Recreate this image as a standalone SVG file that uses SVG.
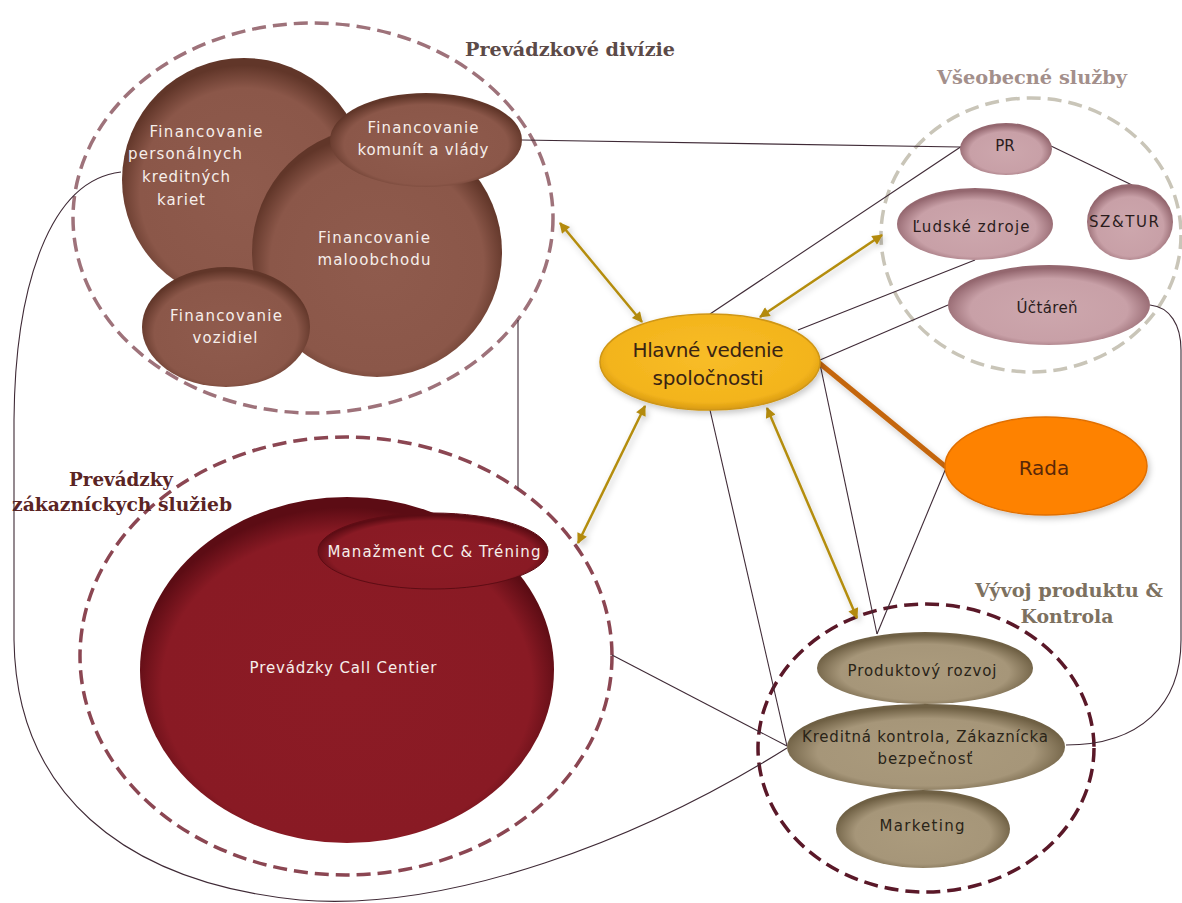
<svg xmlns="http://www.w3.org/2000/svg" width="1182" height="903" viewBox="0 0 1182 903">
<defs>
<style>
.grp{fill:none;stroke-width:3.5;stroke-dasharray:14 7}
.con{fill:none;stroke:#3f2a36;stroke-width:1.1}
.arr{fill:none;stroke:#b48d10;stroke-width:2.5;marker-start:url(#ah);marker-end:url(#ah)}
.wt{font-family:"DejaVu Sans","Noto Sans",sans-serif;font-size:15px;fill:#f6eeea;text-anchor:middle}
.dk{font-family:"DejaVu Sans","Noto Sans",sans-serif;font-size:15px;fill:#2a1c1c;text-anchor:middle}
.big{font-size:20px}
.ol{fill:#2a2418}
.ttl{font-family:"DejaVu Serif","Liberation Serif",serif;font-weight:bold;font-size:18px;text-anchor:middle}
</style>
<marker id="ah" viewBox="0 0 10 10" refX="9" refY="5" markerWidth="5.2" markerHeight="4.2" orient="auto-start-reverse" markerUnits="strokeWidth">
<path d="M0,0 L10,5 L0,10 z" fill="#b38a0c"/>
</marker>
<radialGradient id="gBrown" cx="50%" cy="55%" r="52%">
<stop offset="0" stop-color="#8f5b4d"/><stop offset="0.82" stop-color="#8b5749"/><stop offset="1" stop-color="#613629"/>
</radialGradient>
<radialGradient id="gRed" cx="50%" cy="55%" r="52%">
<stop offset="0" stop-color="#8c1b25"/><stop offset="0.86" stop-color="#891a24"/><stop offset="1" stop-color="#5c0c14"/>
</radialGradient>
<radialGradient id="gPink" cx="50%" cy="56%" r="52%">
<stop offset="0" stop-color="#cda7ad"/><stop offset="0.75" stop-color="#c8a0a7"/><stop offset="1" stop-color="#94676f"/>
</radialGradient>
<radialGradient id="gOlive" cx="50%" cy="56%" r="52%">
<stop offset="0" stop-color="#ab9b7d"/><stop offset="0.75" stop-color="#a69679"/><stop offset="1" stop-color="#6f6044"/>
</radialGradient>
<radialGradient id="gGold" cx="50%" cy="45%" r="55%">
<stop offset="0" stop-color="#f8bd28"/><stop offset="0.85" stop-color="#f3b41c"/><stop offset="1" stop-color="#d89a12"/>
</radialGradient>
<filter id="sh" x="-20%" y="-20%" width="140%" height="150%">
<feDropShadow dx="2" dy="3" stdDeviation="3" flood-color="#000" flood-opacity="0.22"/>
</filter>
</defs>
<rect width="1182" height="903" fill="#ffffff"/>

<!-- group containers -->
<g id="grp-prevadzkove-divizie">
<ellipse class="grp" cx="313" cy="218" rx="240" ry="195" stroke="#9e727a"/>
<text class="ttl" x="570" y="56" fill="#5c4a48" textLength="210" lengthAdjust="spacingAndGlyphs">Prevádzkové divízie</text>
</g>
<g id="grp-vseobecne-sluzby">
<ellipse class="grp" cx="1031" cy="235" rx="150" ry="137" stroke="#c9c5b8"/>
<text class="ttl" x="1032" y="84" fill="#a38f8b" textLength="190" lengthAdjust="spacingAndGlyphs">Všeobecné služby</text>
</g>
<g id="grp-prevadzky-zakaznickych-sluzieb">
<ellipse class="grp" cx="346" cy="656" rx="266" ry="219" stroke="#8b4652"/>
<text class="ttl" x="121" y="486" fill="#5a2424" textLength="104" lengthAdjust="spacingAndGlyphs">Prevádzky</text>
<text class="ttl" x="122" y="511" fill="#5a2424" textLength="220" lengthAdjust="spacingAndGlyphs">zákazníckych služieb</text>
</g>
<g id="grp-vyvoj-produktu">
<ellipse class="grp" cx="926" cy="748" rx="168" ry="144" stroke="#5a1828" stroke-dasharray="12 7"/>
<text class="ttl" x="1069" y="597" fill="#7d7160" textLength="188" lengthAdjust="spacingAndGlyphs">Vývoj produktu &amp;</text>
<text class="ttl" x="1067" y="623" fill="#7d7160" textLength="93" lengthAdjust="spacingAndGlyphs">Kontrola</text>
</g>

<!-- connectors -->
<g id="connectors">
<line class="con" x1="522" y1="140" x2="960" y2="147"/>
<line class="con" x1="710" y1="314" x2="962" y2="146"/>
<line class="con" x1="1051" y1="146" x2="1132" y2="185"/>
<line class="con" x1="798" y1="330" x2="975" y2="260"/>
<line class="con" x1="820" y1="360" x2="948" y2="305"/>
<line class="con" x1="820" y1="364" x2="877" y2="634"/>
<line class="con" x1="946" y1="468" x2="877" y2="634"/>
<line class="con" x1="710" y1="410" x2="787" y2="746"/>
<line class="con" x1="612" y1="655" x2="787" y2="746"/>
<line class="con" x1="518" y1="320" x2="518" y2="489"/>
<path class="con" d="M1150,305 C1170,307 1181,325 1181,350 L1181,640 C1181,705 1140,745 1066,745"/>
<path class="con" d="M121,172 C50,180 15,285 14,420 L14,640 C16,790 120,882 300,900 C450,912 640,840 787,748"/>
<line x1="818" y1="362" x2="946" y2="467" stroke="#c4660e" stroke-width="5" filter="url(#sh)"/>
<g filter="url(#sh)">
<line class="arr" x1="560" y1="223" x2="642" y2="322"/>
<line class="arr" x1="882" y1="235" x2="760" y2="317"/>
<line class="arr" x1="578" y1="543" x2="645" y2="406"/>
<line class="arr" x1="767" y1="408" x2="857" y2="618"/>
</g>
</g>

<!-- Prevádzkové divízie nodes -->
<g id="node-personalne-karty">
<circle cx="244" cy="180" r="122" fill="url(#gBrown)"/>
<text class="wt" x="206" y="137" textLength="113">Financovanie</text>
<text class="wt" x="185" y="159" textLength="114">personálnych</text>
<text class="wt" x="186" y="182" textLength="88">kreditných</text>
<text class="wt" x="181" y="205" textLength="48">kariet</text>
</g>
<g id="node-maloobchod">
<circle cx="377" cy="252" r="125" fill="url(#gBrown)"/>
<text class="wt" x="374" y="243" textLength="112">Financovanie</text>
<text class="wt" x="374" y="265" textLength="113">maloobchodu</text>
</g>
<g id="node-komunity">
<ellipse cx="426" cy="140" rx="96" ry="47" fill="url(#gBrown)"/>
<text class="wt" x="423" y="133" textLength="111">Financovanie</text>
<text class="wt" x="423" y="155" textLength="131">komunít a vlády</text>
</g>
<g id="node-vozidla">
<ellipse cx="226" cy="327" rx="84" ry="60" fill="url(#gBrown)"/>
<text class="wt" x="226" y="321" textLength="112">Financovanie</text>
<text class="wt" x="225" y="343" textLength="65">vozidiel</text>
</g>

<!-- Všeobecné služby nodes -->
<g id="node-pr">
<ellipse cx="1006" cy="149" rx="46" ry="26" fill="url(#gPink)"/>
<text class="dk" x="1005" y="151">PR</text>
</g>
<g id="node-sztur">
<ellipse cx="1130" cy="222" rx="43" ry="38" fill="url(#gPink)"/>
<text class="dk" x="1124" y="227" textLength="70">SZ&amp;TUR</text>
</g>
<g id="node-ludske-zdroje">
<ellipse cx="975" cy="224" rx="78" ry="36" fill="url(#gPink)"/>
<text class="dk" x="971" y="232" textLength="117">Ľudské zdroje</text>
</g>
<g id="node-uctaren">
<ellipse cx="1049" cy="305" rx="101" ry="40" fill="url(#gPink)"/>
<text class="dk" x="1047" y="313" textLength="61">Účtáreň</text>
</g>

<!-- Hlavné vedenie -->
<g id="node-hlavne-vedenie">
<ellipse cx="710" cy="362" rx="110" ry="48" fill="url(#gGold)" stroke="#cf9614" stroke-width="1.5" filter="url(#sh)"/>
<text class="dk big" x="708" y="357" style="fill:#3a2412" textLength="151">Hlavné vedenie</text>
<text class="dk big" x="708" y="385" style="fill:#3a2412" textLength="111">spoločnosti</text>
</g>

<!-- Rada -->
<g id="node-rada">
<ellipse cx="1046" cy="466" rx="101" ry="49" fill="#fe8203" stroke="#e06f00" stroke-width="1.5" filter="url(#sh)"/>
<text class="dk big" x="1044" y="475" style="fill:#5a2808">Rada</text>
</g>

<!-- Prevádzky zákazníckych služieb nodes -->
<g id="node-call-centier">
<ellipse cx="347" cy="670" rx="207" ry="173" fill="url(#gRed)"/>
<text class="wt" x="343" y="673" textLength="187">Prevádzky Call Centier</text>
</g>
<g id="node-manazment-cc">
<ellipse cx="433" cy="551" rx="115" ry="38" fill="url(#gRed)" stroke="#5e0c14" stroke-width="1"/>
<text class="wt" x="434" y="557" textLength="213">Manažment CC &amp; Tréning</text>
</g>

<!-- Vývoj produktu nodes -->
<g id="node-produktovy-rozvoj">
<ellipse cx="925" cy="668" rx="108" ry="36" fill="url(#gOlive)"/>
<text class="dk ol" x="922" y="676" textLength="149">Produktový rozvoj</text>
</g>
<g id="node-marketing">
<ellipse cx="923" cy="829" rx="87" ry="39" fill="url(#gOlive)"/>
<text class="dk ol" x="922" y="831" textLength="85">Marketing</text>
</g>
<g id="node-kreditna-kontrola">
<ellipse cx="926" cy="747" rx="139" ry="43" fill="url(#gOlive)"/>
<text class="dk ol" x="925" y="742" textLength="246">Kreditná kontrola, Zákaznícka</text>
<text class="dk ol" x="925" y="764" textLength="95">bezpečnosť</text>
</g>
</svg>
